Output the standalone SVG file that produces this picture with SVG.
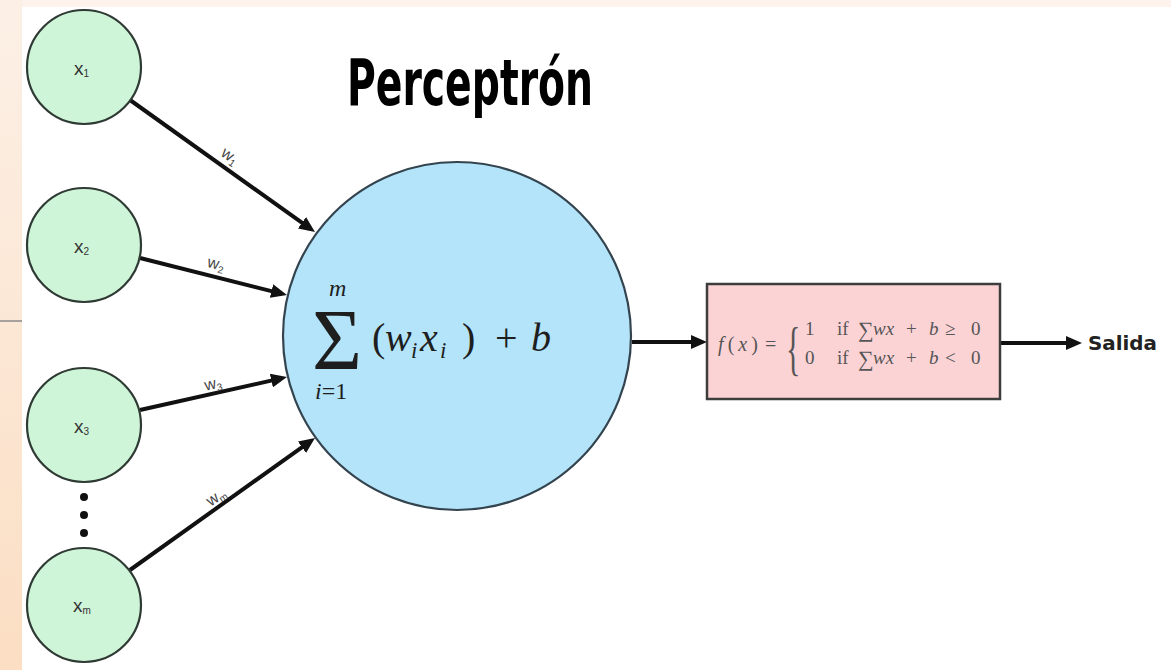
<svg xmlns="http://www.w3.org/2000/svg" width="1171" height="670" viewBox="0 0 1171 670">
  <defs>
    <linearGradient id="strip" x1="0" y1="0" x2="0" y2="1">
      <stop offset="0" stop-color="#fcf0e6"/>
      <stop offset="1" stop-color="#fbdec3"/>
    </linearGradient>
    <marker id="arr" markerUnits="userSpaceOnUse" markerWidth="18" markerHeight="14" refX="2" refY="7" orient="auto">
      <path d="M0,0 L16,7 L0,14 z" fill="#111"/>
    </marker>
    <style>
      .inp { fill: #cff5d8; stroke: #2e3a33; stroke-width: 2.2; }
      .lbl { font-family: "Liberation Sans", Arial, sans-serif; font-size: 19px; fill: #333; }
      .wl { font-family: "Liberation Sans", Arial, sans-serif; font-size: 16px; fill: #444; }
      .sub { font-size: 10px; }
      .edge { stroke: #111; stroke-width: 4; fill: none; marker-end: url(#arr); }
      .math { font-family: "Liberation Serif", "Times New Roman", serif; fill: #1e1e1e; }
      .fm { font-family: "Liberation Serif", "Times New Roman", serif; fill: #555; }
      .it { font-style: italic; }
    </style>
  </defs>

  <rect x="0" y="0" width="1171" height="670" fill="#ffffff"/>
  <rect x="0" y="0" width="1171" height="7" fill="#fdf3ec"/>
  <rect x="0" y="0" width="22" height="670" fill="url(#strip)"/>
  <line x1="0" y1="321" x2="22" y2="321" stroke="#8a8a8a" stroke-width="1.5"/>

  <text id="title" x="347" y="105" font-family="'DejaVu Sans', Verdana, sans-serif" font-weight="bold" font-size="64" textLength="246" lengthAdjust="spacingAndGlyphs" fill="#000">Perceptrón</text>

  <g id="connectors">
    <line class="edge" x1="130" y1="100" x2="303.6" y2="223.9"/>
    <line class="edge" x1="140" y1="258" x2="273.4" y2="291.6"/>
    <line class="edge" x1="140" y1="410" x2="273.3" y2="380.1"/>
    <line class="edge" x1="130" y1="570" x2="303.6" y2="446.1"/>
    <line class="edge" x1="632" y1="342" x2="693" y2="342"/>
    <line class="edge" x1="1000" y1="343" x2="1068" y2="343"/>
    <text class="wl" transform="translate(230,156) rotate(35)" text-anchor="middle" y="5">w<tspan class="sub" dy="3">1</tspan></text>
    <text class="wl" transform="translate(216,264) rotate(14)" text-anchor="middle" y="5">w<tspan class="sub" dy="3">2</tspan></text>
    <text class="wl" transform="translate(213,384) rotate(-13)" text-anchor="middle" y="5">w<tspan class="sub" dy="3">3</tspan></text>
    <text class="wl" transform="translate(216,497) rotate(-35)" text-anchor="middle" y="5">w<tspan class="sub" dy="3">m</tspan></text>
  </g>

  <g id="x1">
    <circle class="inp" cx="84" cy="67" r="57"/>
    <text class="lbl" x="74" y="75">x<tspan class="sub" dy="2">1</tspan></text>
  </g>
  <g id="x2">
    <circle class="inp" cx="84" cy="245" r="57"/>
    <text class="lbl" x="74" y="253">x<tspan class="sub" dy="2">2</tspan></text>
  </g>
  <g id="x3">
    <circle class="inp" cx="84" cy="425" r="57"/>
    <text class="lbl" x="74" y="433">x<tspan class="sub" dy="2">3</tspan></text>
  </g>
  <g id="dots" fill="#111">
    <circle cx="84" cy="497" r="4"/>
    <circle cx="84" cy="515" r="4"/>
    <circle cx="84" cy="533" r="4"/>
  </g>
  <g id="xm">
    <circle class="inp" cx="84" cy="605" r="57"/>
    <text class="lbl" x="73" y="612">x<tspan class="sub" dy="2">m</tspan></text>
  </g>

  <g id="sum">
    <circle cx="457" cy="336" r="174" fill="#b4e4f9" stroke="#34444f" stroke-width="2.2"/>
    <text class="math" x="312" y="369" font-size="86">Σ</text>
    <text class="math it" x="329" y="296" font-size="24">m</text>
    <text class="math" x="315" y="399" font-size="24"><tspan class="it">i</tspan>=1</text>
    <text class="math" x="372" y="351" font-size="40">(</text>
    <text class="math it" x="385" y="351" font-size="40">w</text>
    <text class="math it" x="411" y="358" font-size="23">i</text>
    <text class="math it" x="420" y="351" font-size="40">x</text>
    <text class="math it" x="440" y="358" font-size="23">i</text>
    <text class="math" x="462" y="351" font-size="40">)</text>
    <text class="math" x="495" y="351" font-size="40">+</text>
    <text class="math it" x="531" y="351" font-size="40">b</text>
  </g>

  <g id="activation">
    <rect x="707" y="284" width="293" height="115" fill="#fcd3d5" stroke="#3d3d3d" stroke-width="2.5"/>
    <text class="fm" x="718" y="351" font-size="20" textLength="40" lengthAdjust="spacing"><tspan class="it">f</tspan>(<tspan class="it">x</tspan>)</text>
    <text class="fm" x="765" y="351" font-size="20">=</text>
    <text class="fm" transform="translate(786,368) scale(0.5,1)" font-size="60">{</text>
    <text class="fm" x="805" y="335" font-size="19">1</text>
    <text class="fm" x="837" y="335" font-size="19">if</text>
    <text class="fm" x="858" y="337" font-size="22">∑</text>
    <text class="fm it" x="873" y="335" font-size="19">wx</text>
    <text class="fm" x="906" y="335" font-size="19">+</text>
    <text class="fm it" x="929" y="335" font-size="19">b</text>
    <text class="fm" x="945" y="335" font-size="19">≥</text>
    <text class="fm" x="971" y="335" font-size="19">0</text>
    <text class="fm" x="805" y="364" font-size="19">0</text>
    <text class="fm" x="837" y="364" font-size="19">if</text>
    <text class="fm" x="858" y="366" font-size="22">∑</text>
    <text class="fm it" x="873" y="364" font-size="19">wx</text>
    <text class="fm" x="906" y="364" font-size="19">+</text>
    <text class="fm it" x="929" y="364" font-size="19">b</text>
    <text class="fm" x="945" y="364" font-size="19">&lt;</text>
    <text class="fm" x="971" y="364" font-size="19">0</text>
  </g>

  <g id="salida">
    <text x="1088" y="350" font-family="'DejaVu Sans', Verdana, sans-serif" font-weight="bold" font-size="19" textLength="69" lengthAdjust="spacingAndGlyphs" fill="#222">Salida</text>
  </g>
</svg>
